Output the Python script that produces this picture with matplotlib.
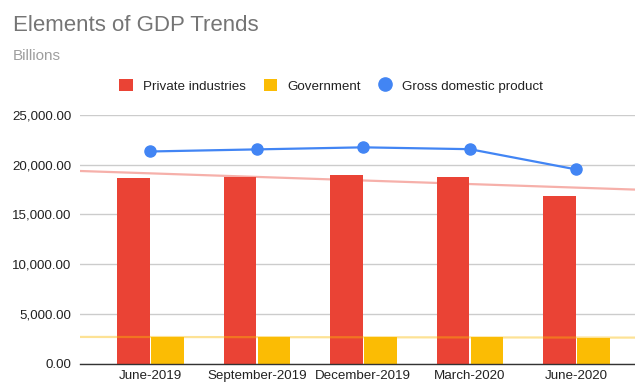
import numpy as np
import matplotlib
matplotlib.use("Agg")
import matplotlib.pyplot as plt
from matplotlib.patches import Patch
from matplotlib.lines import Line2D
from matplotlib.ticker import FuncFormatter, MultipleLocator

plt.rcParams['font.family'] = ['Liberation Sans', 'DejaVu Sans']

# Quarterly values, billions of dollars
quarters = ["June-2019", "September-2019", "December-2019", "March-2020", "June-2020"]
private_industries = [18640, 18800, 18990, 18770, 16860]
government = [2640, 2650, 2660, 2680, 2560]
gdp = [21330, 21540, 21747, 21561, 19520]

RED = "#ea4335"
YELLOW = "#fbbc04"
BLUE = "#4285f4"

fig = plt.figure(figsize=(6.35, 3.84), dpi=100)
ax = fig.add_axes([80 / 635, 1 - 363.5 / 384, 1 - 80 / 635, (363.5 - 115) / 384])

x = np.arange(len(quarters))
bw = 0.305
off = 0.16
ax.bar(x - off, private_industries, width=bw, color=RED, zorder=3)
ax.bar(x + off, government, width=bw, color=YELLOW, zorder=3)
ax.plot(x, gdp, color=BLUE, lw=1.6, marker='o', ms=8, zorder=5)

# Linear trendlines for the bar series, spanning the whole plot width
xlim = (-0.66, 4.55)
xs = np.array(xlim)
for vals, col in ((private_industries, RED), (government, YELLOW)):
    k, b = np.polyfit(x, vals, 1)
    ax.plot(xs, k * xs + b, color=col, alpha=0.42, lw=1.6, zorder=4,
            solid_capstyle='butt')

ax.set_xlim(*xlim)
ax.set_ylim(0, 25000)
ax.yaxis.set_major_locator(MultipleLocator(5000))
ax.yaxis.set_major_formatter(FuncFormatter(lambda v, p: f"{v:,.2f}"))
ax.set_xticks(x)
ax.set_xticklabels(quarters)
ax.tick_params(axis='both', length=0, labelsize=9.6, colors="#222222")
ax.tick_params(axis='y', pad=6)
ax.tick_params(axis='x', pad=5)
ax.grid(axis='y', color="#cccccc", lw=1, zorder=0)
ax.set_axisbelow(True)
for s in ("top", "right", "left"):
    ax.spines[s].set_visible(False)
ax.spines['bottom'].set_color("#333333")
ax.spines['bottom'].set_linewidth(1)
ax.spines['bottom'].set_zorder(6)

fig.text(13 / 635, 1 - 31 / 384, "Elements of GDP Trends", fontsize=16,
         color="#757575", ha='left', va='baseline')
fig.text(13 / 635, 1 - 60 / 384, "Billions", fontsize=11,
         color="#9e9e9e", ha='left', va='baseline')

handles = [
    Patch(facecolor=RED, edgecolor='none', label="Private industries"),
    Patch(facecolor=YELLOW, edgecolor='none', label="Government"),
    Line2D([], [], color=BLUE, marker='o', ls='none', ms=9.5, label="Gross domestic product"),
]
fig.legend(handles=handles, loc='center', bbox_to_anchor=(331 / 635, 1 - 86 / 384),
           ncol=3, frameon=False, fontsize=9.6, handlelength=1.0, handleheight=1.0,
           handletextpad=0.75, columnspacing=1.35, labelcolor="#222222", borderpad=0)

fig.savefig("out.png", dpi=100)
